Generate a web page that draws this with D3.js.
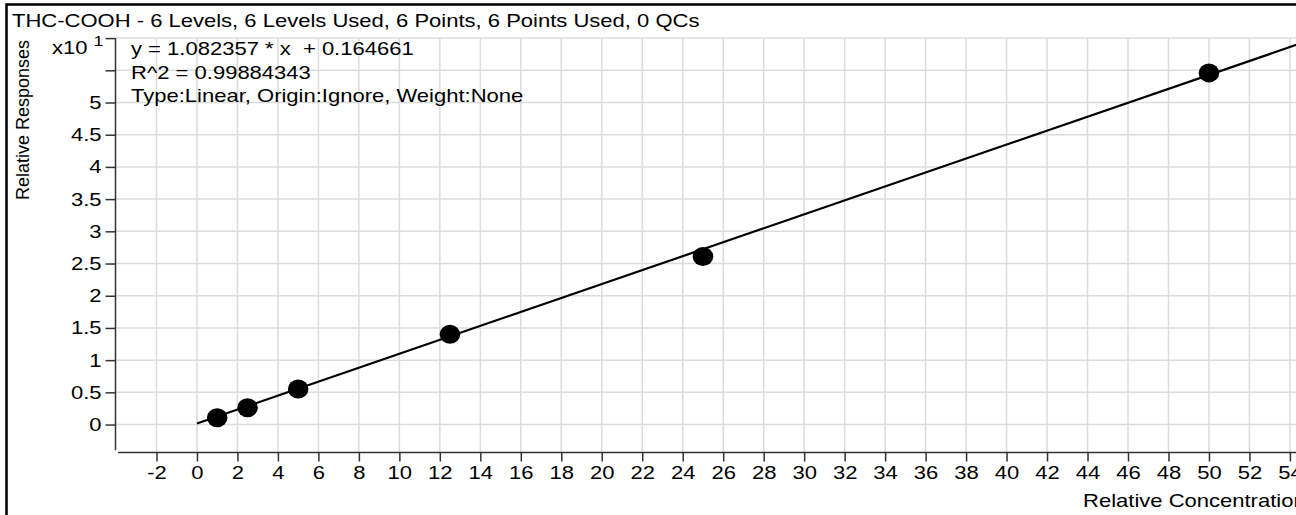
<!DOCTYPE html>
<html>
<head>
<meta charset="utf-8">
<script src="https://cdn.jsdelivr.net/npm/d3@7/dist/d3.min.js"></script>
<style>
  html, body { margin: 0; padding: 0; background: #fff; }
  svg { display: block; font-family: "Liberation Sans", Arial, sans-serif; }
</style>
</head>
<body>
<svg id="chart" width="1296" height="515"></svg>
<script>
// ---- data ----
const concentrations = [1, 2.5, 5, 12.5, 25, 50];
const responses = [1.06, 2.61, 5.51, 14.0, 26.1, 54.6];
const slope = 1.082357;
const intercept = 0.164661;
const xTicks = d3.range(-2, 55, 2);
const yTicks = [0, 0.5, 1, 1.5, 2, 2.5, 3, 3.5, 4, 4.5, 5, 5.5, 6];
const yTickLabels = ["0", "0.5", "1", "1.5", "2", "2.5", "3", "3.5", "4", "4.5", "5", "", ""];
const titleText = "THC-COOH - 6 Levels, 6 Levels Used, 6 Points, 6 Points Used, 0 QCs";
const infoLines = ["y = 1.082357 * x  + 0.164661", "R^2 = 0.99884343", "Type:Linear, Origin:Ignore, Weight:None"];
const yScaleFactor = 10; // x10^1

// ---- layout ----
const svg = d3.select("#chart");
const W = 1296, H = 515;
const FS = 18.5;   // font size
const SX = 1.19;   // horizontal stretch of glyphs seen in the reference
const x = d3.scaleLinear().domain([-4, 56]).range([116, 116 + 60 * 20.24]);
const y = d3.scaleLinear().domain([-0.4, 6]).range([450.3, 38.1]);

function stretchedText(parent, tx, ty, str, opts = {}) {
  const t = parent.append("text")
    .attr("transform", `translate(${tx},${ty}) scale(${opts.sx || SX},1)`)
    .attr("font-size", opts.fs || FS).attr("fill", "#000")
    .attr("text-anchor", opts.anchor || "start")
    .style("white-space", "pre");
  t.text(str);
  return t;
}

svg.append("rect").attr("width", W).attr("height", H).attr("fill", "#fff");

// frame
svg.append("rect").attr("x", 6.5).attr("y", 4.5).attr("width", W + 20).attr("height", H + 20)
  .attr("fill", "none").attr("stroke", "#000").attr("stroke-width", 2.5);

// title
stretchedText(svg, 12, 27, titleText);

// grid
const grid = svg.append("g");
grid.selectAll("line.v").data(xTicks).join("line")
  .attr("x1", d => x(d)).attr("x2", d => x(d))
  .attr("y1", y(6)).attr("y2", 452)
  .attr("stroke", "#dcdcdc").attr("stroke-width", 1.5);
grid.selectAll("line.h").data(yTicks).join("line")
  .attr("x1", 116).attr("x2", W)
  .attr("y1", d => y(d)).attr("y2", d => y(d))
  .attr("stroke", "#dcdcdc").attr("stroke-width", 1.5);

// y axis
const yAxis = d3.axisLeft(y).tickValues(yTicks).tickSize(10).tickPadding(4)
  .tickFormat((d, i) => yTickLabels[i]);
const gy = svg.append("g").attr("transform", "translate(115.5,0)").call(yAxis);
gy.select(".domain").attr("d", `M0,${y(6)}V${y(-0.4)}`).attr("stroke", "#333").attr("stroke-width", 1.5);
gy.selectAll(".tick line").attr("stroke", "#333").attr("stroke-width", 1.5);
gy.selectAll(".tick text").attr("font-size", FS).attr("fill", "#000")
  .attr("font-family", "Liberation Sans, Arial, sans-serif")
  .attr("x", -14 / SX).attr("transform", `scale(${SX},1)`);

// x axis
const xAxis = d3.axisBottom(x).tickValues(xTicks).tickSize(9).tickPadding(4).tickFormat(d => String(d));
const gx = svg.append("g").attr("transform", "translate(0,452.5)").call(xAxis);
gx.select(".domain").attr("d", `M118,0H${W}`).attr("stroke", "#333").attr("stroke-width", 1.5);
gx.selectAll(".tick line").attr("stroke", "#333").attr("stroke-width", 1.5);
gx.selectAll(".tick text").attr("font-size", FS).attr("fill", "#000")
  .attr("font-family", "Liberation Sans, Arial, sans-serif")
  .attr("transform", `scale(${SX},1)`);

// multiplier label
const mult = stretchedText(svg, 52, 54, "x10 ");
mult.append("tspan").attr("dy", -8).attr("font-size", 15).text(Math.log10(yScaleFactor));

// axis titles
svg.append("text").attr("transform", "translate(29,120) rotate(-90)").attr("text-anchor", "middle")
  .attr("font-size", 18).attr("fill", "#000").text("Relative Responses");
stretchedText(svg, 1083, 507, "Relative Concentration");

// info text
infoLines.forEach((s, i) => stretchedText(svg, 131, 55 + i * 23.5, s));

// clip for plot
svg.append("clipPath").attr("id", "plotclip").append("rect")
  .attr("x", 116).attr("y", 30).attr("width", W - 116).attr("height", 422);

// fit line
const fitX = [0, 56];
const line = d3.line().x(d => x(d)).y(d => y((slope * d + intercept) / yScaleFactor));
svg.append("path").attr("clip-path", "url(#plotclip)").datum(fitX).attr("d", line)
  .attr("fill", "none").attr("stroke", "#000").attr("stroke-width", 2.2);

// points
svg.append("g").selectAll("ellipse").data(concentrations).join("ellipse")
  .attr("cx", d => x(d)).attr("cy", (d, i) => y(responses[i] / yScaleFactor))
  .attr("rx", 10.3).attr("ry", 9.5).attr("fill", "#000");
</script>
</body>
</html>
